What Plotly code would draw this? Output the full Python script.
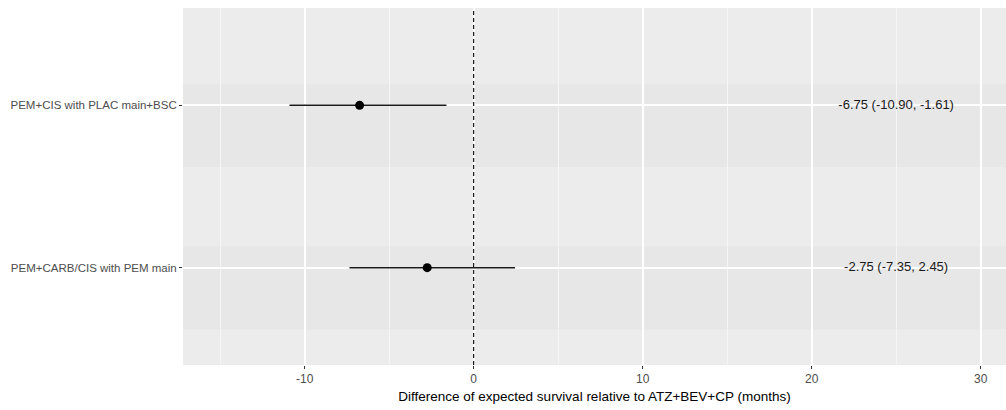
import plotly.graph_objects as go

# Data
treatments = ["PEM+CARB/CIS with PEM main", "PEM+CIS with PLAC main+BSC"]
estimates = [-2.75, -6.75]
lower = [-7.35, -10.90]
upper = [2.45, -1.61]
x_ticks = [-10, 0, 10, 20, 30]
label_x = 25

ypos = list(range(1, len(treatments) + 1))
labels = [f"{e:.2f} ({lo:.2f}, {hi:.2f})" for e, lo, hi in zip(estimates, lower, upper)]

fig = go.Figure()

# shaded bands behind each row (above gridlines)
for y in ypos:
    fig.add_shape(type="rect", xref="paper", x0=0, x1=1, yref="y",
                  y0=y - 0.38, y1=y + 0.13, layer="between",
                  fillcolor="rgba(90,90,90,0.03)", line_width=0)

fig.add_trace(go.Scatter(
    x=estimates, y=ypos, mode="markers",
    marker=dict(color="black", size=9),
    error_x=dict(type="data", symmetric=False,
                 array=[u - e for u, e in zip(upper, estimates)],
                 arrayminus=[e - l for e, l in zip(estimates, lower)],
                 width=0, thickness=1.5, color="#1a1a1a"),
    showlegend=False, hoverinfo="skip"))

fig.add_trace(go.Scatter(
    x=[label_x] * len(ypos), y=ypos, mode="text", text=labels,
    textposition="middle center",
    textfont=dict(family="Liberation Sans, Arial", size=13, color="#1a1a1a"),
    showlegend=False, hoverinfo="skip"))

fig.add_vline(x=0, line=dict(color="black", width=1.1, dash="4px,3px"))

fig.update_layout(
    width=1006, height=410,
    margin=dict(l=183, r=0, t=8, b=45),
    paper_bgcolor="white", plot_bgcolor="#ECECEC",
    font=dict(family="Liberation Sans, Arial", color="#4D4D4D"),
)

fig.update_xaxes(
    range=[-17.2, 31.5], tickvals=x_ticks, ticktext=[str(t) for t in x_ticks],
    showgrid=True, gridcolor="white", gridwidth=1.6,
    minor=dict(showgrid=True, gridcolor="#F5F5F5", gridwidth=0.8, dtick=5, tick0=-15),
    ticks="outside", ticklen=3, tickcolor="#333333", tickwidth=1,
    tickfont=dict(size=12, color="#4D4D4D"),
    zeroline=False, showline=False, automargin=False,
    title=dict(text="Difference of expected survival relative to ATZ+BEV+CP (months)",
               font=dict(size=13.5, color="black"), standoff=6),
)
fig.update_yaxes(
    range=[0.4, 2.6], tickvals=ypos, ticktext=treatments,
    showgrid=True, gridcolor="white", gridwidth=1.6,
    ticks="outside", ticklen=3, tickcolor="#333333", tickwidth=1,
    tickfont=dict(size=11.5, color="#4D4D4D"),
    zeroline=False, showline=False, automargin=False,
)

fig.write_html("out.html", config={"displayModeBar": False},
               post_script="document.body.style.margin='0';")
